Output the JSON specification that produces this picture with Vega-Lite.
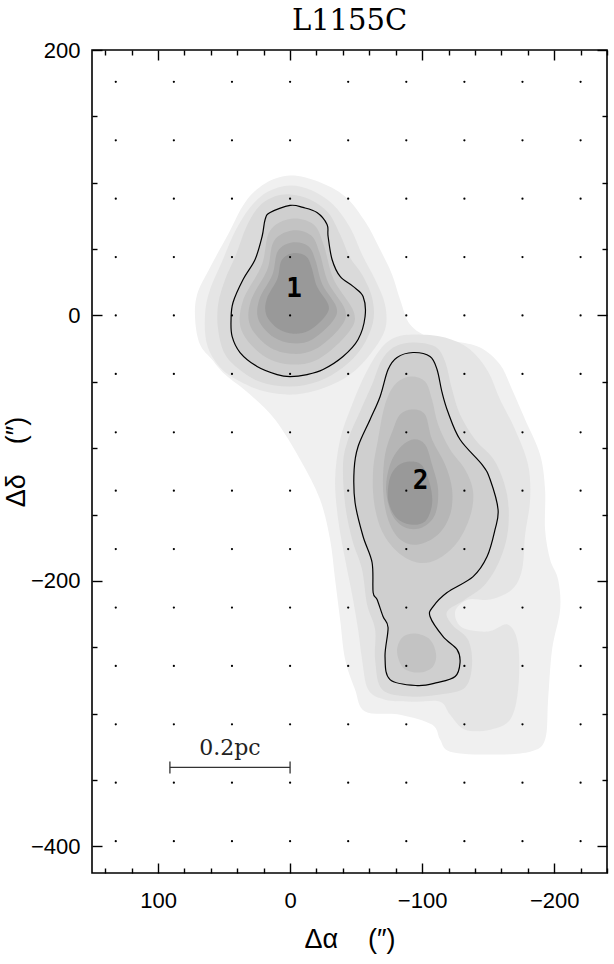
{
"$schema": "https://vega.github.io/schema/vega-lite/v6.json",
"width": 515, "height": 823,
"autosize": {"type": "none"},
"padding": {"left": 92, "top": 50, "right": 7, "bottom": 91},
"background": "white",
"title": {"text": "L1155C", "font": "DejaVu Serif", "fontSize": 29, "fontWeight": "normal", "color": "black", "anchor": "middle", "baseline": "alphabetic", "offset": -20},
"config": {
  "view": {"stroke": "black", "strokeWidth": 1.6},
  "axis": {"domain": false, "grid": false, "tickColor": "black", "tickWidth": 1.4, "labelColor": "black", "titleColor": "black", "labelFont": "Liberation Sans", "labelFontSize": 22, "titleFont": "Liberation Sans", "titleFontSize": 27, "titleFontWeight": "normal"}
},
"datasets": {
"polys": [
{"k":"1A","l":1,"x":0,"y":105.5},{"k":"1A","l":1,"x":-21.2,"y":101},{"k":"1A","l":1,"x":-41.7,"y":89.7},{"k":"1A","l":1,"x":-56.8,"y":70.8},{"k":"1A","l":1,"x":-68.2,"y":49.7},{"k":"1A","l":1,"x":-77.2,"y":30.9},{"k":"1A","l":1,"x":-83.3,"y":12.1},{"k":"1A","l":1,"x":-90.9,"y":-6.8},{"k":"1A","l":1,"x":-106,"y":-16.6},{"k":"1A","l":1,"x":-125,"y":-19.6},{"k":"1A","l":1,"x":-143.9,"y":-24.1},{"k":"1A","l":1,"x":-159,"y":-36.9},{"k":"1A","l":1,"x":-168.1,"y":-55.8},{"k":"1A","l":1,"x":-178,"y":-78.4},{"k":"1A","l":1,"x":-189.3,"y":-104.8},{"k":"1A","l":1,"x":-193.1,"y":-131.1},{"k":"1A","l":1,"x":-193.1,"y":-161.3},{"k":"1A","l":1,"x":-196.9,"y":-183.9},{"k":"1A","l":1,"x":-203,"y":-199},{"k":"1A","l":1,"x":-204.5,"y":-221.6},{"k":"1A","l":1,"x":-198.4,"y":-251.7},{"k":"1A","l":1,"x":-195.4,"y":-289.4},{"k":"1A","l":1,"x":-193.1,"y":-319.5},{"k":"1A","l":1,"x":-181.8,"y":-328.6},{"k":"1A","l":1,"x":-151.5,"y":-330.8},{"k":"1A","l":1,"x":-121.2,"y":-328.6},{"k":"1A","l":1,"x":-113.6,"y":-319.5},{"k":"1A","l":1,"x":-107.5,"y":-308.2},{"k":"1A","l":1,"x":-83.3,"y":-300.7},{"k":"1A","l":1,"x":-56.8,"y":-298.4},{"k":"1A","l":1,"x":-49.2,"y":-281.8},{"k":"1A","l":1,"x":-41.7,"y":-259.2},{"k":"1A","l":1,"x":-37.9,"y":-229.1},{"k":"1A","l":1,"x":-34.1,"y":-199},{"k":"1A","l":1,"x":-30.3,"y":-168.8},{"k":"1A","l":1,"x":-22.7,"y":-138.7},{"k":"1A","l":1,"x":-7.6,"y":-108.5},{"k":"1A","l":1,"x":11.4,"y":-78.4},{"k":"1A","l":1,"x":30.3,"y":-59.5},{"k":"1A","l":1,"x":49.2,"y":-44.5},{"k":"1A","l":1,"x":59.1,"y":-33.2},{"k":"1A","l":1,"x":68.2,"y":-21.9},{"k":"1A","l":1,"x":71.9,"y":-3},{"k":"1A","l":1,"x":70.4,"y":15.8},{"k":"1A","l":1,"x":60.6,"y":36.2},{"k":"1A","l":1,"x":47,"y":61},{"k":"1A","l":1,"x":34.1,"y":85.2},{"k":"1A","l":1,"x":18.9,"y":99.5},
{"k":"2B1","l":2,"x":0,"y":98},{"k":"2B1","l":2,"x":-16.7,"y":94.2},{"k":"2B1","l":2,"x":-32.6,"y":83.6},{"k":"2B1","l":2,"x":-45.4,"y":66.3},{"k":"2B1","l":2,"x":-54.5,"y":46},{"k":"2B1","l":2,"x":-64.4,"y":27.1},{"k":"2B1","l":2,"x":-71.9,"y":8.3},{"k":"2B1","l":2,"x":-71.9,"y":-10.6},{"k":"2B1","l":2,"x":-60.6,"y":-29.4},{"k":"2B1","l":2,"x":-45.4,"y":-44.5},{"k":"2B1","l":2,"x":-26.5,"y":-54.3},{"k":"2B1","l":2,"x":-3.8,"y":-59.5},{"k":"2B1","l":2,"x":18.9,"y":-57.3},{"k":"2B1","l":2,"x":37.9,"y":-49.7},{"k":"2B1","l":2,"x":53,"y":-39.2},{"k":"2B1","l":2,"x":62.9,"y":-21.9},{"k":"2B1","l":2,"x":64.4,"y":0.8},{"k":"2B1","l":2,"x":60.6,"y":19.6},{"k":"2B1","l":2,"x":51.5,"y":40.7},{"k":"2B1","l":2,"x":41.7,"y":63.3},{"k":"2B1","l":2,"x":30.3,"y":81.4},{"k":"2B1","l":2,"x":16.7,"y":93.4},
{"k":"2B2","l":2,"x":-94.7,"y":-14.3},{"k":"2B2","l":2,"x":-117.4,"y":-16.6},{"k":"2B2","l":2,"x":-136.3,"y":-25.6},{"k":"2B2","l":2,"x":-149.9,"y":-42.2},{"k":"2B2","l":2,"x":-159,"y":-63.3},{"k":"2B2","l":2,"x":-170.4,"y":-85.9},{"k":"2B2","l":2,"x":-180.2,"y":-112.3},{"k":"2B2","l":2,"x":-181.8,"y":-138.7},{"k":"2B2","l":2,"x":-178,"y":-165},{"k":"2B2","l":2,"x":-175.7,"y":-191.4},{"k":"2B2","l":2,"x":-168.1,"y":-206.5},{"k":"2B2","l":2,"x":-151.5,"y":-214},{"k":"2B2","l":2,"x":-134.8,"y":-214},{"k":"2B2","l":2,"x":-125,"y":-223.1},{"k":"2B2","l":2,"x":-130.3,"y":-235.1},{"k":"2B2","l":2,"x":-149.9,"y":-238.1},{"k":"2B2","l":2,"x":-165.1,"y":-232.9},{"k":"2B2","l":2,"x":-172.7,"y":-247.9},{"k":"2B2","l":2,"x":-172.7,"y":-281.8},{"k":"2B2","l":2,"x":-166.6,"y":-304.5},{"k":"2B2","l":2,"x":-151.5,"y":-312},{"k":"2B2","l":2,"x":-132.5,"y":-312},{"k":"2B2","l":2,"x":-121.2,"y":-300.7},{"k":"2B2","l":2,"x":-113.6,"y":-290.9},{"k":"2B2","l":2,"x":-94.7,"y":-290.9},{"k":"2B2","l":2,"x":-71.9,"y":-289.4},{"k":"2B2","l":2,"x":-59.1,"y":-281.8},{"k":"2B2","l":2,"x":-54.5,"y":-259.2},{"k":"2B2","l":2,"x":-51.5,"y":-236.6},{"k":"2B2","l":2,"x":-47,"y":-210.3},{"k":"2B2","l":2,"x":-41.7,"y":-183.9},{"k":"2B2","l":2,"x":-36.4,"y":-153.7},{"k":"2B2","l":2,"x":-34.1,"y":-123.6},{"k":"2B2","l":2,"x":-37.9,"y":-93.4},{"k":"2B2","l":2,"x":-47,"y":-67.1},{"k":"2B2","l":2,"x":-56.8,"y":-44.5},{"k":"2B2","l":2,"x":-68.2,"y":-25.6},{"k":"2B2","l":2,"x":-79.5,"y":-16.6},
{"k":"3C1","l":3,"x":0,"y":91.2},{"k":"3C1","l":3,"x":-15.1,"y":87.4},{"k":"3C1","l":3,"x":-28.8,"y":77.6},{"k":"3C1","l":3,"x":-37.9,"y":61},{"k":"3C1","l":3,"x":-45.4,"y":43.7},{"k":"3C1","l":3,"x":-54.5,"y":30.9},{"k":"3C1","l":3,"x":-62.1,"y":13.6},{"k":"3C1","l":3,"x":-62.9,"y":-4.5},{"k":"3C1","l":3,"x":-54.5,"y":-24.1},{"k":"3C1","l":3,"x":-40.1,"y":-39.2},{"k":"3C1","l":3,"x":-21.2,"y":-49.7},{"k":"3C1","l":3,"x":0,"y":-53.5},{"k":"3C1","l":3,"x":21.2,"y":-50.5},{"k":"3C1","l":3,"x":36.4,"y":-42.2},{"k":"3C1","l":3,"x":49.2,"y":-29.4},{"k":"3C1","l":3,"x":54.5,"y":-10.6},{"k":"3C1","l":3,"x":54.5,"y":8.3},{"k":"3C1","l":3,"x":49.2,"y":27.1},{"k":"3C1","l":3,"x":40.9,"y":46},{"k":"3C1","l":3,"x":33.3,"y":66.3},{"k":"3C1","l":3,"x":24.2,"y":81.4},{"k":"3C1","l":3,"x":13.6,"y":88.9},
{"k":"3C2","l":3,"x":-93.1,"y":-20.3},{"k":"3C2","l":3,"x":-109.8,"y":-23.4},{"k":"3C2","l":3,"x":-117.4,"y":-34.7},{"k":"3C2","l":3,"x":-122.7,"y":-55.8},{"k":"3C2","l":3,"x":-128.7,"y":-74.6},{"k":"3C2","l":3,"x":-140.1,"y":-93.4},{"k":"3C2","l":3,"x":-155.2,"y":-110},{"k":"3C2","l":3,"x":-164.3,"y":-134.9},{"k":"3C2","l":3,"x":-165.1,"y":-161.3},{"k":"3C2","l":3,"x":-159,"y":-183.9},{"k":"3C2","l":3,"x":-147.7,"y":-202.7},{"k":"3C2","l":3,"x":-132.5,"y":-214},{"k":"3C2","l":3,"x":-118.9,"y":-223.1},{"k":"3C2","l":3,"x":-122.7,"y":-232.9},{"k":"3C2","l":3,"x":-134.8,"y":-244.2},{"k":"3C2","l":3,"x":-137.8,"y":-263},{"k":"3C2","l":3,"x":-132.5,"y":-280.3},{"k":"3C2","l":3,"x":-113.6,"y":-285.6},{"k":"3C2","l":3,"x":-90.9,"y":-287.1},{"k":"3C2","l":3,"x":-69.7,"y":-281.8},{"k":"3C2","l":3,"x":-64.4,"y":-259.2},{"k":"3C2","l":3,"x":-64.4,"y":-236.6},{"k":"3C2","l":3,"x":-58.3,"y":-217.8},{"k":"3C2","l":3,"x":-54.5,"y":-191.4},{"k":"3C2","l":3,"x":-47,"y":-168.8},{"k":"3C2","l":3,"x":-41.7,"y":-142.4},{"k":"3C2","l":3,"x":-40.1,"y":-112.3},{"k":"3C2","l":3,"x":-43.9,"y":-93.4},{"k":"3C2","l":3,"x":-53,"y":-72.3},{"k":"3C2","l":3,"x":-62.1,"y":-52},{"k":"3C2","l":3,"x":-69.7,"y":-33.2},{"k":"3C2","l":3,"x":-79.5,"y":-23.4},
{"k":"4D1","l":4,"x":0,"y":82.9},{"k":"4D1","l":4,"x":-9.8,"y":81.4},{"k":"4D1","l":4,"x":-20.4,"y":77.6},{"k":"4D1","l":4,"x":-28,"y":68.6},{"k":"4D1","l":4,"x":-28.8,"y":59.5},{"k":"4D1","l":4,"x":-31.8,"y":42.2},{"k":"4D1","l":4,"x":-37.9,"y":29.4},{"k":"4D1","l":4,"x":-47.7,"y":21.9},{"k":"4D1","l":4,"x":-55.3,"y":14.3},{"k":"4D1","l":4,"x":-56.8,"y":-0.8},{"k":"4D1","l":4,"x":-51.5,"y":-18.1},{"k":"4D1","l":4,"x":-40.1,"y":-30.9},{"k":"4D1","l":4,"x":-25,"y":-40.7},{"k":"4D1","l":4,"x":-12.9,"y":-44.5},{"k":"4D1","l":4,"x":0,"y":-46},{"k":"4D1","l":4,"x":9.8,"y":-44.5},{"k":"4D1","l":4,"x":25,"y":-38.4},{"k":"4D1","l":4,"x":37.9,"y":-27.9},{"k":"4D1","l":4,"x":43.9,"y":-15.8},{"k":"4D1","l":4,"x":44.7,"y":-3},{"k":"4D1","l":4,"x":43.2,"y":9.8},{"k":"4D1","l":4,"x":35.6,"y":27.1},{"k":"4D1","l":4,"x":26.5,"y":42.2},{"k":"4D1","l":4,"x":21.2,"y":59.5},{"k":"4D1","l":4,"x":18.9,"y":72.3},{"k":"4D1","l":4,"x":15.1,"y":77.6},
{"k":"4D2","l":4,"x":-93.1,"y":-27.9},{"k":"4D2","l":4,"x":-106,"y":-30.9},{"k":"4D2","l":4,"x":-111.3,"y":-40.7},{"k":"4D2","l":4,"x":-115.1,"y":-58},{"k":"4D2","l":4,"x":-119.7,"y":-73.1},{"k":"4D2","l":4,"x":-128.7,"y":-93.4},{"k":"4D2","l":4,"x":-145.4,"y":-112.3},{"k":"4D2","l":4,"x":-151.5,"y":-123.6},{"k":"4D2","l":4,"x":-157.5,"y":-146.2},{"k":"4D2","l":4,"x":-155.2,"y":-161.3},{"k":"4D2","l":4,"x":-149.2,"y":-181.6},{"k":"4D2","l":4,"x":-138.6,"y":-196.7},{"k":"4D2","l":4,"x":-118.9,"y":-208.7},{"k":"4D2","l":4,"x":-108.3,"y":-219.3},{"k":"4D2","l":4,"x":-106,"y":-226.8},{"k":"4D2","l":4,"x":-115.9,"y":-241.9},{"k":"4D2","l":4,"x":-126.5,"y":-251.7},{"k":"4D2","l":4,"x":-128.7,"y":-261.5},{"k":"4D2","l":4,"x":-125,"y":-272},{"k":"4D2","l":4,"x":-111.3,"y":-276.6},{"k":"4D2","l":4,"x":-96.2,"y":-278.8},{"k":"4D2","l":4,"x":-75.7,"y":-274.3},{"k":"4D2","l":4,"x":-71.9,"y":-257},{"k":"4D2","l":4,"x":-74.2,"y":-235.1},{"k":"4D2","l":4,"x":-70.4,"y":-226.8},{"k":"4D2","l":4,"x":-65.9,"y":-214},{"k":"4D2","l":4,"x":-62.9,"y":-208.7},{"k":"4D2","l":4,"x":-62.1,"y":-186.1},{"k":"4D2","l":4,"x":-55.3,"y":-166.5},{"k":"4D2","l":4,"x":-49.2,"y":-140.9},{"k":"4D2","l":4,"x":-48.5,"y":-116.1},{"k":"4D2","l":4,"x":-51.5,"y":-98.7},{"k":"4D2","l":4,"x":-60.6,"y":-78.4},{"k":"4D2","l":4,"x":-68.2,"y":-61},{"k":"4D2","l":4,"x":-74.2,"y":-40.7},{"k":"4D2","l":4,"x":-81,"y":-31.6},
{"k":"5E1","l":5,"x":-0.8,"y":72.8},{"k":"5E1","l":5,"x":15.4,"y":63.5},{"k":"5E1","l":5,"x":21.4,"y":38},{"k":"5E1","l":5,"x":35.8,"y":10.8},{"k":"5E1","l":5,"x":36.7,"y":-11.4},{"k":"5E1","l":5,"x":20.5,"y":-30.1},{"k":"5E1","l":5,"x":-0.8,"y":-36.9},{"k":"5E1","l":5,"x":-22,"y":-32.6},{"k":"5E1","l":5,"x":-44.1,"y":-13.1},{"k":"5E1","l":5,"x":-48.4,"y":2.3},{"k":"5E1","l":5,"x":-33.1,"y":26.9},{"k":"5E1","l":5,"x":-25.4,"y":53.3},{"k":"5E1","l":5,"x":-17.8,"y":68.6},
{"k":"5E2","l":5,"x":-90.9,"y":-46},{"k":"5E2","l":5,"x":-102.2,"y":-49.7},{"k":"5E2","l":5,"x":-107.5,"y":-63.3},{"k":"5E2","l":5,"x":-112.1,"y":-82.1},{"k":"5E2","l":5,"x":-121.2,"y":-101},{"k":"5E2","l":5,"x":-132.5,"y":-116.1},{"k":"5E2","l":5,"x":-138.6,"y":-132.6},{"k":"5E2","l":5,"x":-136.3,"y":-151.5},{"k":"5E2","l":5,"x":-126.5,"y":-171.1},{"k":"5E2","l":5,"x":-111.3,"y":-183.9},{"k":"5E2","l":5,"x":-96.2,"y":-186.1},{"k":"5E2","l":5,"x":-81,"y":-177.8},{"k":"5E2","l":5,"x":-69.7,"y":-162.8},{"k":"5E2","l":5,"x":-63.6,"y":-140.9},{"k":"5E2","l":5,"x":-62.9,"y":-116.1},{"k":"5E2","l":5,"x":-66.6,"y":-93.4},{"k":"5E2","l":5,"x":-71.9,"y":-67.1},{"k":"5E2","l":5,"x":-79.5,"y":-52},
{"k":"5E3","l":5,"x":-94.7,"y":-239.6},{"k":"5E3","l":5,"x":-106,"y":-244.2},{"k":"5E3","l":5,"x":-110.6,"y":-255.5},{"k":"5E3","l":5,"x":-107.5,"y":-265.3},{"k":"5E3","l":5,"x":-96.9,"y":-269},{"k":"5E3","l":5,"x":-85.6,"y":-265.3},{"k":"5E3","l":5,"x":-81,"y":-253.2},{"k":"5E3","l":5,"x":-84.8,"y":-242.7},
{"k":"6F1","l":6,"x":-1.4,"y":64},{"k":"6F1","l":6,"x":12.3,"y":56},{"k":"6F1","l":6,"x":17.3,"y":34.4},{"k":"6F1","l":6,"x":29.6,"y":11.4},{"k":"6F1","l":6,"x":30.3,"y":-7.3},{"k":"6F1","l":6,"x":16.6,"y":-23.2},{"k":"6F1","l":6,"x":-1.4,"y":-28.9},{"k":"6F1","l":6,"x":-19.4,"y":-25.3},{"k":"6F1","l":6,"x":-38.1,"y":-8.8},{"k":"6F1","l":6,"x":-41.7,"y":4.2},{"k":"6F1","l":6,"x":-28.8,"y":25.1},{"k":"6F1","l":6,"x":-22.3,"y":47.4},{"k":"6F1","l":6,"x":-15.8,"y":60.4},
{"k":"6F2","l":6,"x":-92.4,"y":-70.8},{"k":"6F2","l":6,"x":-102.2,"y":-74.6},{"k":"6F2","l":6,"x":-107.5,"y":-93.4},{"k":"6F2","l":6,"x":-117.4,"y":-112.3},{"k":"6F2","l":6,"x":-122.7,"y":-131.1},{"k":"6F2","l":6,"x":-121.2,"y":-150},{"k":"6F2","l":6,"x":-112.1,"y":-165},{"k":"6F2","l":6,"x":-96.9,"y":-172.6},{"k":"6F2","l":6,"x":-83.3,"y":-168.8},{"k":"6F2","l":6,"x":-74.2,"y":-153.7},{"k":"6F2","l":6,"x":-70.4,"y":-131.1},{"k":"6F2","l":6,"x":-71.9,"y":-104.8},{"k":"6F2","l":6,"x":-78,"y":-85.9},{"k":"6F2","l":6,"x":-83.3,"y":-74.6},
{"k":"7G1","l":7,"x":-2.1,"y":55.1},{"k":"7G1","l":7,"x":9.2,"y":48.6},{"k":"7G1","l":7,"x":13.3,"y":30.9},{"k":"7G1","l":7,"x":23.3,"y":12.1},{"k":"7G1","l":7,"x":23.9,"y":-3.3},{"k":"7G1","l":7,"x":12.7,"y":-16.3},{"k":"7G1","l":7,"x":-2.1,"y":-21},{"k":"7G1","l":7,"x":-16.8,"y":-18},{"k":"7G1","l":7,"x":-32.1,"y":-4.5},{"k":"7G1","l":7,"x":-35.1,"y":6.2},{"k":"7G1","l":7,"x":-24.5,"y":23.3},{"k":"7G1","l":7,"x":-19.2,"y":41.6},{"k":"7G1","l":7,"x":-13.9,"y":52.2},
{"k":"7G2","l":7,"x":-93.1,"y":-93.4},{"k":"7G2","l":7,"x":-102.2,"y":-97.2},{"k":"7G2","l":7,"x":-107.5,"y":-112.3},{"k":"7G2","l":7,"x":-112.1,"y":-131.1},{"k":"7G2","l":7,"x":-109.8,"y":-150},{"k":"7G2","l":7,"x":-100,"y":-159.8},{"k":"7G2","l":7,"x":-87.1,"y":-159.8},{"k":"7G2","l":7,"x":-77.2,"y":-150},{"k":"7G2","l":7,"x":-72.7,"y":-131.1},{"k":"7G2","l":7,"x":-75.7,"y":-112.3},{"k":"7G2","l":7,"x":-83.3,"y":-99.5},
{"k":"8H1","l":8,"x":-2.7,"y":47},{"k":"8H1","l":8,"x":6.3,"y":41.8},{"k":"8H1","l":8,"x":9.6,"y":27.7},{"k":"8H1","l":8,"x":17.6,"y":12.7},{"k":"8H1","l":8,"x":18,"y":0.4},{"k":"8H1","l":8,"x":9.1,"y":-9.9},{"k":"8H1","l":8,"x":-2.7,"y":-13.7},{"k":"8H1","l":8,"x":-14.4,"y":-11.3},{"k":"8H1","l":8,"x":-26.6,"y":-0.5},{"k":"8H1","l":8,"x":-29,"y":8},{"k":"8H1","l":8,"x":-20.5,"y":21.6},{"k":"8H1","l":8,"x":-16.3,"y":36.2},{"k":"8H1","l":8,"x":-12.1,"y":44.6},
{"k":"8H2","l":8,"x":-90.9,"y":-110},{"k":"8H2","l":8,"x":-100,"y":-113},{"k":"8H2","l":8,"x":-106,"y":-127.4},{"k":"8H2","l":8,"x":-107.5,"y":-142.4},{"k":"8H2","l":8,"x":-102.2,"y":-155.2},{"k":"8H2","l":8,"x":-90.9,"y":-157.5},{"k":"8H2","l":8,"x":-80.3,"y":-152.2},{"k":"8H2","l":8,"x":-74.2,"y":-138.7},{"k":"8H2","l":8,"x":-75.7,"y":-122.1},{"k":"8H2","l":8,"x":-81.8,"y":-113}
],
"dots": [
{"x":132,"y":176},{"x":88,"y":176},{"x":44,"y":176},{"x":0,"y":176},{"x":-44,"y":176},{"x":-88,"y":176},{"x":-132,"y":176},{"x":-176,"y":176},{"x":-220,"y":176},
{"x":132,"y":132},{"x":88,"y":132},{"x":44,"y":132},{"x":0,"y":132},{"x":-44,"y":132},{"x":-88,"y":132},{"x":-132,"y":132},{"x":-176,"y":132},{"x":-220,"y":132},
{"x":132,"y":88},{"x":88,"y":88},{"x":44,"y":88},{"x":0,"y":88},{"x":-44,"y":88},{"x":-88,"y":88},{"x":-132,"y":88},{"x":-176,"y":88},{"x":-220,"y":88},
{"x":132,"y":44},{"x":88,"y":44},{"x":44,"y":44},{"x":0,"y":44},{"x":-44,"y":44},{"x":-88,"y":44},{"x":-132,"y":44},{"x":-176,"y":44},{"x":-220,"y":44},
{"x":132,"y":0},{"x":88,"y":0},{"x":44,"y":0},{"x":0,"y":0},{"x":-44,"y":0},{"x":-88,"y":0},{"x":-132,"y":0},{"x":-176,"y":0},{"x":-220,"y":0},
{"x":132,"y":-44},{"x":88,"y":-44},{"x":44,"y":-44},{"x":0,"y":-44},{"x":-44,"y":-44},{"x":-88,"y":-44},{"x":-132,"y":-44},{"x":-176,"y":-44},{"x":-220,"y":-44},
{"x":132,"y":-88},{"x":88,"y":-88},{"x":44,"y":-88},{"x":0,"y":-88},{"x":-44,"y":-88},{"x":-88,"y":-88},{"x":-132,"y":-88},{"x":-176,"y":-88},{"x":-220,"y":-88},
{"x":132,"y":-132},{"x":88,"y":-132},{"x":44,"y":-132},{"x":0,"y":-132},{"x":-44,"y":-132},{"x":-88,"y":-132},{"x":-132,"y":-132},{"x":-176,"y":-132},{"x":-220,"y":-132},
{"x":132,"y":-176},{"x":88,"y":-176},{"x":44,"y":-176},{"x":0,"y":-176},{"x":-44,"y":-176},{"x":-88,"y":-176},{"x":-132,"y":-176},{"x":-176,"y":-176},{"x":-220,"y":-176},
{"x":132,"y":-220},{"x":88,"y":-220},{"x":44,"y":-220},{"x":0,"y":-220},{"x":-44,"y":-220},{"x":-88,"y":-220},{"x":-132,"y":-220},{"x":-176,"y":-220},{"x":-220,"y":-220},
{"x":132,"y":-264},{"x":88,"y":-264},{"x":44,"y":-264},{"x":0,"y":-264},{"x":-44,"y":-264},{"x":-88,"y":-264},{"x":-132,"y":-264},{"x":-176,"y":-264},{"x":-220,"y":-264},
{"x":132,"y":-308},{"x":88,"y":-308},{"x":44,"y":-308},{"x":0,"y":-308},{"x":-44,"y":-308},{"x":-88,"y":-308},{"x":-132,"y":-308},{"x":-176,"y":-308},{"x":-220,"y":-308},
{"x":132,"y":-352},{"x":88,"y":-352},{"x":44,"y":-352},{"x":0,"y":-352},{"x":-44,"y":-352},{"x":-88,"y":-352},{"x":-132,"y":-352},{"x":-176,"y":-352},{"x":-220,"y":-352},
{"x":132,"y":-396},{"x":88,"y":-396},{"x":44,"y":-396},{"x":0,"y":-396},{"x":-44,"y":-396},{"x":-88,"y":-396},{"x":-132,"y":-396},{"x":-176,"y":-396},{"x":-220,"y":-396}
],
"cores": [{"x":-3,"y":19.6,"t":"1"},{"x":-98.8,"y":-124.7,"t":"2"}],
"bar": [{"x":91,"x2":0,"y":-340.5,"y2":-340.5},{"x":91,"x2":91,"y":-336,"y2":-345},{"x":0,"x2":0,"y":-336,"y2":-345}],
"bartext": [{"x":45.5,"y":-331,"t":"0.2pc"}]
},
"resolve": {"scale": {"x": "shared", "y": "shared"}, "axis": {"x": "independent", "y": "independent"}},
"layer": [
{
 "data": {"name": "polys"},
 "mark": {"type": "line", "filled": true, "interpolate": "cardinal-closed", "strokeWidth": 0},
 "encoding": {
  "x": {"field": "x", "type": "quantitative", "scale": {"domain": [150, -240], "nice": false, "zero": false},
        "axis": {"orient": "bottom", "values": [100, 0, -100, -200], "tickSize": -10, "labelPadding": 27, "title": "Δα\u00a0\u00a0\u00a0\u00a0(″)", "titlePadding": 15}},
  "y": {"field": "y", "type": "quantitative", "scale": {"domain": [-420, 200], "nice": false, "zero": false},
        "axis": {"orient": "left", "values": [200, 0, -200, -400], "tickSize": -10, "labelPadding": 22, "title": "Δδ\u00a0\u00a0\u00a0\u00a0(″)", "titlePadding": 0}},
  "detail": {"field": "k"},
  "order": {"value": null},
  "color": {"field": "l", "type": "ordinal", "scale": {"domain": [1,2,3,4,5,6,7,8], "range": ["#f0f0f0","#e5e5e5","#dadada","#cfcfcf","#c3c3c3","#b6b6b6","#a8a8a8","#999999"]}, "legend": null}
 }
},
{
 "data": {"name": "polys"},
 "transform": [{"filter": "datum.l == 4"}],
 "mark": {"type": "line", "interpolate": "cardinal-closed", "color": "black", "strokeWidth": 1.2},
 "encoding": {
  "x": {"field": "x", "type": "quantitative", "scale": {"domain": [150, -240], "nice": false, "zero": false},
        "axis": {"orient": "bottom", "values": [140,120,80,60,40,20,-20,-40,-60,-80,-120,-140,-160,-180,-220,-240], "tickSize": -5, "labels": false, "title": null}},
  "y": {"field": "y", "type": "quantitative", "scale": {"domain": [-420, 200], "nice": false, "zero": false},
        "axis": {"orient": "left", "values": [150,100,50,-50,-100,-150,-250,-300,-350], "tickSize": -5, "labels": false, "title": null}},
  "detail": {"field": "k"},
  "order": {"value": null}
 }
},
{
 "data": {"name": "dots"},
 "mark": {"type": "circle", "size": 5, "color": "black", "opacity": 1},
 "encoding": {
  "x": {"field": "x", "type": "quantitative", "scale": {"domain": [150, -240], "nice": false, "zero": false},
        "axis": {"orient": "top", "values": [100, 0, -100, -200], "tickSize": -10, "labels": false, "title": null}},
  "y": {"field": "y", "type": "quantitative", "scale": {"domain": [-420, 200], "nice": false, "zero": false},
        "axis": {"orient": "right", "values": [200, 0, -200, -400], "tickSize": -10, "labels": false, "title": null}}
 }
},
{
 "data": {"name": "cores"},
 "mark": {"type": "text", "font": "DejaVu Sans Mono", "fontWeight": "bold", "fontSize": 26, "color": "black", "baseline": "middle", "align": "center"},
 "encoding": {
  "x": {"field": "x", "type": "quantitative", "scale": {"domain": [150, -240], "nice": false, "zero": false},
        "axis": {"orient": "top", "values": [140,120,80,60,40,20,-20,-40,-60,-80,-120,-140,-160,-180,-220,-240], "tickSize": -5, "labels": false, "title": null}},
  "y": {"field": "y", "type": "quantitative", "scale": {"domain": [-420, 200], "nice": false, "zero": false},
        "axis": {"orient": "right", "values": [150,100,50,-50,-100,-150,-250,-300,-350], "tickSize": -5, "labels": false, "title": null}},
  "text": {"field": "t"}
 }
},
{
 "data": {"name": "bar"},
 "mark": {"type": "rule", "color": "#333333", "strokeWidth": 1.3},
 "encoding": {
  "x": {"field": "x", "type": "quantitative", "axis": null},
  "x2": {"field": "x2"},
  "y": {"field": "y", "type": "quantitative", "axis": null},
  "y2": {"field": "y2"}
 }
},
{
 "data": {"name": "bartext"},
 "mark": {"type": "text", "font": "DejaVu Serif", "fontSize": 22, "color": "#222222", "baseline": "alphabetic", "align": "center"},
 "encoding": {
  "x": {"field": "x", "type": "quantitative", "axis": null},
  "y": {"field": "y", "type": "quantitative", "axis": null},
  "text": {"field": "t"}
 }
}
]
}
